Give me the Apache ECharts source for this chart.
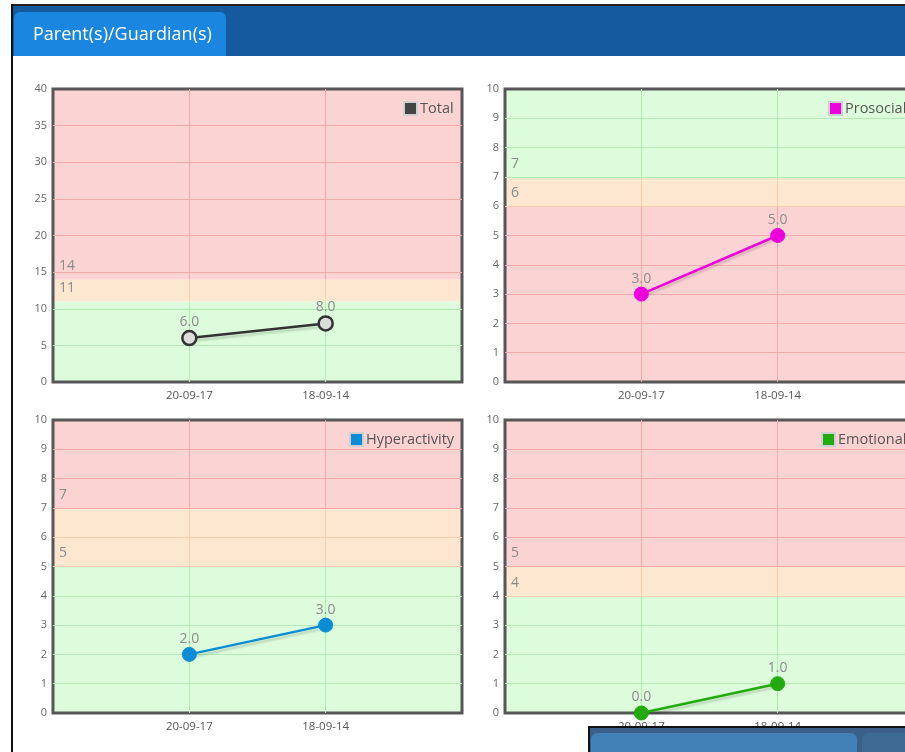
<!DOCTYPE html>
<html>
<head>
<meta charset="utf-8">
<script src="https://cdn.jsdelivr.net/npm/echarts@6/dist/echarts.min.js"></script>
<style>
html,body{margin:0;padding:0;background:#fff;}
#c{width:905px;height:752px;}
</style>
</head>
<body>
<div id="c"></div>
<script>
// ---- data ----
const dates = ['20-09-17', '18-09-14'];
const seriesNames = ['Total', 'Prosocial', 'Hyperactivity', 'Emotional'];
const totalValues = [6, 8];
const prosocialValues = [3, 5];
const hyperactivityValues = [2, 3];
const emotionalValues = [0, 1];
// bands: [low, high, zone]
const totalBands = [[0, 11, 'g'], [11, 14, 'o'], [14, 40, 'r']];
const prosocialBands = [[0, 6, 'r'], [6, 7, 'o'], [7, 10, 'g']];
const hyperactivityBands = [[0, 5, 'g'], [5, 7, 'o'], [7, 10, 'r']];
const emotionalBands = [[0, 4, 'g'], [4, 5, 'o'], [5, 10, 'r']];
const axisMax = [40, 10, 10, 10];
const axisInterval = [5, 1, 1, 1];
const headerTitle = 'Parent(s)/Guardian(s)';

// ---- styles / layout ----
const zoneFill = { r: '#fcd3d3', o: '#fde7d1', g: '#dcfcdb' };
const zoneLine = { r: '#f1a9a9', o: '#f5cfae', g: '#b2ecb2' };
const lineColors = ['#333333', '#ee00dd', '#0a8cd6', '#22aa0e'];
const markerFill = ['#dcdcdc', '#ee00dd', '#0a8cd6', '#22aa0e'];
const legendIcon = ['#444444', '#ee00dd', '#0a8cd6', '#22aa0e'];
const grids = [
  { left: 53, top: 89, width: 409, height: 293 },
  { left: 505, top: 89, width: 409, height: 293 },
  { left: 53, top: 420, width: 409, height: 293 },
  { left: 505, top: 420, width: 409, height: 293 }
];
const legendPos = [
  { left: 403, top: 101 },
  { left: 828, top: 101 },
  { left: 349, top: 432 },
  { left: 821, top: 432 }
];
const valuesList = [totalValues, prosocialValues, hyperactivityValues, emotionalValues];
const bandsList = [totalBands, prosocialBands, hyperactivityBands, emotionalBands];

const FONT = 'Open Sans';
const cats = [''].concat(dates).concat(['']);

const option = {
  animation: false,
  textStyle: { fontFamily: FONT },
  grid: grids.map(g => Object.assign({ show: true, borderColor: '#575757', borderWidth: 3, backgroundColor: 'transparent', z: 5, containLabel: false, outerBoundsMode: 'none' }, g)),
  xAxis: grids.map((g, i) => ({
    type: 'category', gridIndex: i, data: cats, boundaryGap: false,
    axisLine: { show: false }, axisTick: { show: false }, splitLine: { show: false },
    axisLabel: { interval: 0, color: '#555', fontSize: 11.5, margin: 8, fontFamily: FONT }
  })),
  yAxis: grids.map((g, i) => ({
    type: 'value', gridIndex: i, min: 0, max: axisMax[i], interval: axisInterval[i],
    axisLine: { show: false }, axisTick: { show: false }, splitLine: { show: false },
    axisLabel: { color: '#666', fontSize: 11, margin: 6, fontFamily: FONT }
  })),
  legend: seriesNames.map((n, i) => ({
    left: legendPos[i].left, top: legendPos[i].top, padding: 0,
    itemWidth: 13, itemHeight: 13,
    textStyle: { color: '#555', fontSize: 14.5, fontFamily: FONT, padding: [0, 0, 0, -2] },
    data: [{ name: n, icon: 'rect', itemStyle: { color: legendIcon[i], borderColor: '#cfcfcf', borderWidth: 2 } }],
    selectedMode: false
  })),
  series: [],
  graphic: [
    { type: 'rect', shape: { x: 12, y: 6, width: 893, height: 50 }, style: { fill: '#155a9e' }, z: 100 },
    { type: 'rect', shape: { x: 14, y: 12, width: 212, height: 44, r: [6, 6, 0, 0] }, style: { fill: '#1a86df' }, z: 101 },
    { type: 'text', x: 33, y: 35, style: { text: headerTitle, fill: '#ffffff', font: '18px "Open Sans"', textVerticalAlign: 'middle', verticalAlign: 'middle' }, z: 102 },
    { type: 'rect', shape: { x: 11, y: 4, width: 894, height: 2 }, style: { fill: '#222' }, z: 103 },
    { type: 'rect', shape: { x: 11, y: 4, width: 2, height: 748 }, style: { fill: '#111' }, z: 103 },
    { type: 'rect', shape: { x: 589, y: 727, width: 320, height: 30 }, style: { fill: '#3b5f88', stroke: '#111', lineWidth: 2 }, z: 100 },
    { type: 'rect', shape: { x: 591, y: 733, width: 266, height: 25, r: [6, 6, 0, 0] }, style: { fill: '#4280b8' }, z: 101 },
    { type: 'rect', shape: { x: 862, y: 733, width: 60, height: 25, r: [6, 6, 0, 0] }, style: { fill: '#3f6a92' }, z: 101 }
  ]
};

seriesNames.forEach((name, i) => {
  const bands = bandsList[i];
  const lines = [];
  bands.forEach(b => {
    for (let v = axisInterval[i]; v < axisMax[i]; v += axisInterval[i]) {
      if (v >= b[0] && v < b[1]) lines.push({ yAxis: v, lineStyle: { color: zoneLine[b[2]], width: 1, type: 'solid' } });
    }
    dates.forEach((d, k) => {
      lines.push([
        { coord: [k + 1, b[0]], lineStyle: { color: zoneLine[b[2]], width: 1, type: 'solid' } },
        { coord: [k + 1, b[1]] }
      ]);
    });
  });
  option.series.push({
    type: 'line', name: '__bands' + i, xAxisIndex: i, yAxisIndex: i, data: [], z: 1, silent: true,
    markArea: {
      silent: true,
      data: bands.map(b => [
        { yAxis: b[0], itemStyle: { color: zoneFill[b[2]] },
          label: { show: b[0] > 0, formatter: String(b[0]), position: 'insideBottomLeft', distance: 6, color: '#8a8a8a', fontSize: 14, fontFamily: FONT } },
        { yAxis: b[1] }
      ])
    }
  });
  option.series.push({
    type: 'line', name: '__lines' + i, xAxisIndex: i, yAxisIndex: i, data: [], z: 2, silent: true,
    markLine: { silent: true, symbol: ['none', 'none'], label: { show: false }, data: lines }
  });
  option.series.push({
    type: 'line', name: name, xAxisIndex: i, yAxisIndex: i, z: 10,
    data: valuesList[i].map((v, k) => [k + 1, v]),
    symbol: 'circle', symbolSize: 14,
    lineStyle: { color: lineColors[i], width: 2.5, shadowColor: 'rgba(0,0,0,0.15)', shadowBlur: 2, shadowOffsetY: 3 },
    itemStyle: { color: markerFill[i], borderColor: lineColors[i], borderWidth: i === 0 ? 2.5 : 1 },
    label: { show: true, position: 'top', distance: 1, color: '#8c8c8c', fontSize: 14, fontFamily: FONT,
      formatter: p => p.value[1].toFixed(1) }
  });
});

const chart = echarts.init(document.getElementById('c'), null, { renderer: 'canvas' });
chart.setOption(option);
</script>
</body>
</html>
